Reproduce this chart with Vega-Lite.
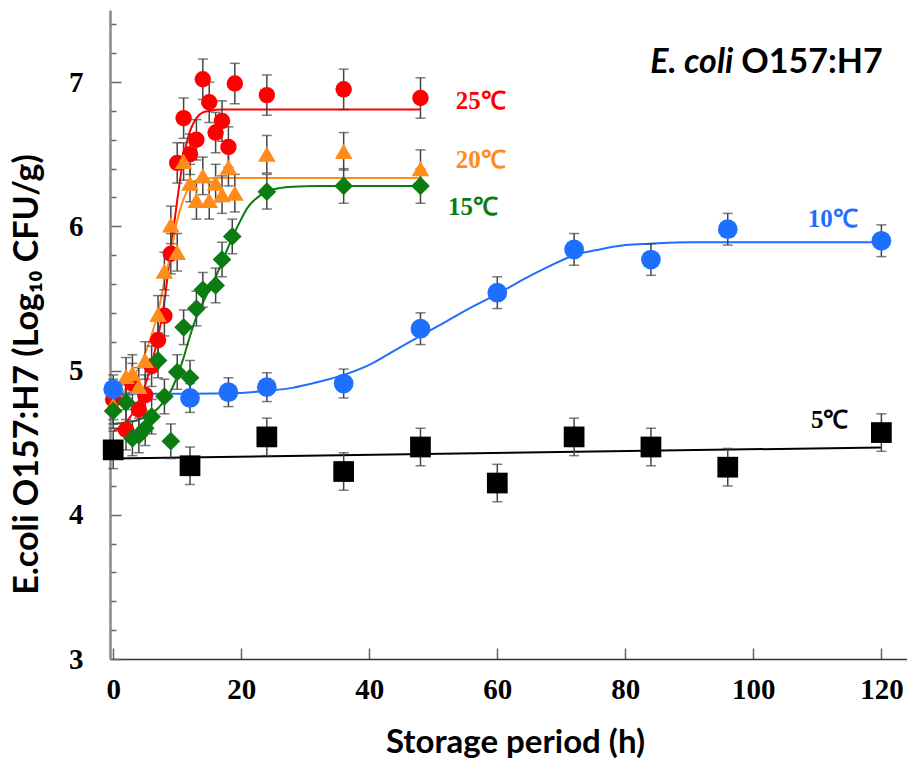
{
  "$schema": "https://vega.github.io/schema/vega-lite/v6.json",
  "autosize": {"type": "none"},
  "padding": {"left": 110, "top": 10, "right": 0, "bottom": 110},
  "width": 797,
  "height": 649,
  "background": "white",
  "config": {"view": {"stroke": null}},
  "datasets": {
    "points": [
      {"series": "5℃", "h": 0, "v": 4.45, "err": 0.13},
      {"series": "5℃", "h": 12, "v": 4.34, "err": 0.13},
      {"series": "5℃", "h": 24, "v": 4.54, "err": 0.13},
      {"series": "5℃", "h": 36, "v": 4.30, "err": 0.13},
      {"series": "5℃", "h": 48, "v": 4.47, "err": 0.13},
      {"series": "5℃", "h": 60, "v": 4.22, "err": 0.13},
      {"series": "5℃", "h": 72, "v": 4.54, "err": 0.13},
      {"series": "5℃", "h": 84, "v": 4.47, "err": 0.13},
      {"series": "5℃", "h": 96, "v": 4.33, "err": 0.13},
      {"series": "5℃", "h": 120, "v": 4.57, "err": 0.13},
      {"series": "25℃", "h": 0, "v": 4.80, "err": 0.14},
      {"series": "25℃", "h": 2, "v": 4.59, "err": 0.14},
      {"series": "25℃", "h": 3, "v": 4.91, "err": 0.14},
      {"series": "25℃", "h": 4, "v": 4.73, "err": 0.14},
      {"series": "25℃", "h": 5, "v": 4.83, "err": 0.14},
      {"series": "25℃", "h": 6, "v": 5.03, "err": 0.14},
      {"series": "25℃", "h": 7, "v": 5.21, "err": 0.14},
      {"series": "25℃", "h": 8, "v": 5.38, "err": 0.14},
      {"series": "25℃", "h": 9, "v": 5.81, "err": 0.14},
      {"series": "25℃", "h": 10, "v": 6.44, "err": 0.14},
      {"series": "25℃", "h": 11, "v": 6.75, "err": 0.14},
      {"series": "25℃", "h": 12, "v": 6.50, "err": 0.14},
      {"series": "25℃", "h": 13, "v": 6.60, "err": 0.14},
      {"series": "25℃", "h": 14, "v": 7.02, "err": 0.14},
      {"series": "25℃", "h": 15, "v": 6.86, "err": 0.14},
      {"series": "25℃", "h": 16, "v": 6.65, "err": 0.14},
      {"series": "25℃", "h": 17, "v": 6.73, "err": 0.14},
      {"series": "25℃", "h": 18, "v": 6.55, "err": 0.14},
      {"series": "25℃", "h": 19, "v": 6.99, "err": 0.14},
      {"series": "25℃", "h": 24, "v": 6.91, "err": 0.14},
      {"series": "25℃", "h": 36, "v": 6.95, "err": 0.14},
      {"series": "25℃", "h": 48, "v": 6.89, "err": 0.14},
      {"series": "20℃", "h": 0, "v": 4.76, "err": 0.13},
      {"series": "20℃", "h": 2, "v": 4.96, "err": 0.13},
      {"series": "20℃", "h": 3, "v": 4.98, "err": 0.13},
      {"series": "20℃", "h": 4, "v": 4.89, "err": 0.13},
      {"series": "20℃", "h": 5, "v": 5.07, "err": 0.13},
      {"series": "20℃", "h": 7, "v": 5.39, "err": 0.13},
      {"series": "20℃", "h": 8, "v": 5.69, "err": 0.13},
      {"series": "20℃", "h": 9, "v": 6.01, "err": 0.13},
      {"series": "20℃", "h": 10, "v": 5.82, "err": 0.13},
      {"series": "20℃", "h": 11, "v": 6.45, "err": 0.13},
      {"series": "20℃", "h": 12, "v": 6.30, "err": 0.13},
      {"series": "20℃", "h": 13, "v": 6.18, "err": 0.13},
      {"series": "20℃", "h": 14, "v": 6.35, "err": 0.13},
      {"series": "20℃", "h": 15, "v": 6.18, "err": 0.13},
      {"series": "20℃", "h": 16, "v": 6.30, "err": 0.13},
      {"series": "20℃", "h": 17, "v": 6.22, "err": 0.13},
      {"series": "20℃", "h": 18, "v": 6.41, "err": 0.13},
      {"series": "20℃", "h": 19, "v": 6.23, "err": 0.13},
      {"series": "20℃", "h": 24, "v": 6.50, "err": 0.13},
      {"series": "20℃", "h": 36, "v": 6.52, "err": 0.13},
      {"series": "20℃", "h": 48, "v": 6.40, "err": 0.13},
      {"series": "15℃", "h": 0, "v": 4.72, "err": 0.12},
      {"series": "15℃", "h": 2, "v": 4.78, "err": 0.12},
      {"series": "15℃", "h": 3, "v": 4.53, "err": 0.12},
      {"series": "15℃", "h": 4, "v": 4.55, "err": 0.12},
      {"series": "15℃", "h": 5, "v": 4.60, "err": 0.12},
      {"series": "15℃", "h": 6, "v": 4.68, "err": 0.12},
      {"series": "15℃", "h": 7, "v": 5.07, "err": 0.12},
      {"series": "15℃", "h": 8, "v": 4.82, "err": 0.12},
      {"series": "15℃", "h": 9, "v": 4.51, "err": 0.12},
      {"series": "15℃", "h": 10, "v": 4.99, "err": 0.12},
      {"series": "15℃", "h": 11, "v": 5.30, "err": 0.12},
      {"series": "15℃", "h": 12, "v": 4.95, "err": 0.12},
      {"series": "15℃", "h": 13, "v": 5.43, "err": 0.12},
      {"series": "15℃", "h": 14, "v": 5.56, "err": 0.12},
      {"series": "15℃", "h": 16, "v": 5.59, "err": 0.12},
      {"series": "15℃", "h": 17, "v": 5.77, "err": 0.12},
      {"series": "15℃", "h": 18.6, "v": 5.93, "err": 0.12},
      {"series": "15℃", "h": 24, "v": 6.24, "err": 0.12},
      {"series": "15℃", "h": 36, "v": 6.28, "err": 0.12},
      {"series": "15℃", "h": 48, "v": 6.28, "err": 0.12},
      {"series": "10℃", "h": 0, "v": 4.87, "err": 0.1},
      {"series": "10℃", "h": 12, "v": 4.81, "err": 0.1},
      {"series": "10℃", "h": 18, "v": 4.85, "err": 0.1},
      {"series": "10℃", "h": 24, "v": 4.885, "err": 0.1},
      {"series": "10℃", "h": 36, "v": 4.91, "err": 0.1},
      {"series": "10℃", "h": 48, "v": 5.29, "err": 0.11},
      {"series": "10℃", "h": 60, "v": 5.54, "err": 0.11},
      {"series": "10℃", "h": 72, "v": 5.84, "err": 0.11},
      {"series": "10℃", "h": 84, "v": 5.77, "err": 0.11},
      {"series": "10℃", "h": 96, "v": 5.98, "err": 0.11},
      {"series": "10℃", "h": 120, "v": 5.90, "err": 0.11}
    ],
    "curves": [
      {"series": "5℃", "h": 0, "v": 4.39},
      {"series": "5℃", "h": 120, "v": 4.467},
      {"series": "25℃", "h": 0, "v": 4.58},
      {"series": "25℃", "h": 2, "v": 4.64},
      {"series": "25℃", "h": 3, "v": 4.70},
      {"series": "25℃", "h": 4, "v": 4.79},
      {"series": "25℃", "h": 5, "v": 4.90},
      {"series": "25℃", "h": 6, "v": 5.05},
      {"series": "25℃", "h": 7, "v": 5.23},
      {"series": "25℃", "h": 8, "v": 5.48},
      {"series": "25℃", "h": 9, "v": 5.84},
      {"series": "25℃", "h": 10, "v": 6.18},
      {"series": "25℃", "h": 11, "v": 6.48},
      {"series": "25℃", "h": 12, "v": 6.66},
      {"series": "25℃", "h": 13, "v": 6.75},
      {"series": "25℃", "h": 14, "v": 6.79},
      {"series": "25℃", "h": 15, "v": 6.80},
      {"series": "25℃", "h": 17, "v": 6.81},
      {"series": "25℃", "h": 48, "v": 6.81},
      {"series": "20℃", "h": 0, "v": 4.72},
      {"series": "20℃", "h": 2, "v": 4.88},
      {"series": "20℃", "h": 4, "v": 5.02},
      {"series": "20℃", "h": 5, "v": 5.12},
      {"series": "20℃", "h": 6, "v": 5.25},
      {"series": "20℃", "h": 7, "v": 5.40},
      {"series": "20℃", "h": 8, "v": 5.62},
      {"series": "20℃", "h": 9, "v": 5.82},
      {"series": "20℃", "h": 10, "v": 6.04},
      {"series": "20℃", "h": 11, "v": 6.19},
      {"series": "20℃", "h": 12, "v": 6.28},
      {"series": "20℃", "h": 13, "v": 6.32},
      {"series": "20℃", "h": 14, "v": 6.33},
      {"series": "20℃", "h": 16, "v": 6.335},
      {"series": "20℃", "h": 48, "v": 6.335},
      {"series": "15℃", "h": 0, "v": 4.63},
      {"series": "15℃", "h": 2, "v": 4.64},
      {"series": "15℃", "h": 4, "v": 4.66},
      {"series": "15℃", "h": 6, "v": 4.70},
      {"series": "15℃", "h": 8, "v": 4.79},
      {"series": "15℃", "h": 9, "v": 4.86},
      {"series": "15℃", "h": 10, "v": 4.96},
      {"series": "15℃", "h": 11, "v": 5.09},
      {"series": "15℃", "h": 12, "v": 5.24},
      {"series": "15℃", "h": 13, "v": 5.37},
      {"series": "15℃", "h": 14, "v": 5.47},
      {"series": "15℃", "h": 15, "v": 5.56},
      {"series": "15℃", "h": 16, "v": 5.65},
      {"series": "15℃", "h": 17, "v": 5.75},
      {"series": "15℃", "h": 18, "v": 5.86},
      {"series": "15℃", "h": 19, "v": 5.96},
      {"series": "15℃", "h": 20, "v": 6.05},
      {"series": "15℃", "h": 21, "v": 6.13},
      {"series": "15℃", "h": 22, "v": 6.18},
      {"series": "15℃", "h": 24, "v": 6.24},
      {"series": "15℃", "h": 26, "v": 6.265},
      {"series": "15℃", "h": 28, "v": 6.275},
      {"series": "15℃", "h": 32, "v": 6.28},
      {"series": "15℃", "h": 48, "v": 6.28},
      {"series": "10℃", "h": 0, "v": 4.84},
      {"series": "10℃", "h": 12, "v": 4.84},
      {"series": "10℃", "h": 20, "v": 4.845},
      {"series": "10℃", "h": 24, "v": 4.86},
      {"series": "10℃", "h": 28, "v": 4.88},
      {"series": "10℃", "h": 32, "v": 4.92},
      {"series": "10℃", "h": 36, "v": 4.97},
      {"series": "10℃", "h": 40, "v": 5.04},
      {"series": "10℃", "h": 44, "v": 5.14},
      {"series": "10℃", "h": 48, "v": 5.24},
      {"series": "10℃", "h": 52, "v": 5.34},
      {"series": "10℃", "h": 56, "v": 5.44},
      {"series": "10℃", "h": 60, "v": 5.53},
      {"series": "10℃", "h": 64, "v": 5.63},
      {"series": "10℃", "h": 68, "v": 5.72},
      {"series": "10℃", "h": 72, "v": 5.80},
      {"series": "10℃", "h": 76, "v": 5.84},
      {"series": "10℃", "h": 80, "v": 5.87},
      {"series": "10℃", "h": 84, "v": 5.88},
      {"series": "10℃", "h": 90, "v": 5.89},
      {"series": "10℃", "h": 120, "v": 5.89}
    ],
    "labels": [
      {"series": "25℃", "h": 53.5, "v": 6.87},
      {"series": "20℃", "h": 53.5, "v": 6.46},
      {"series": "15℃", "h": 52.3, "v": 6.135},
      {"series": "10℃", "h": 108.5, "v": 6.05},
      {"series": "5℃", "h": 109, "v": 4.66}
    ],
    "title": [
      {"h": 97.5, "v": 7.13, "a": "E. coli", "b": "O157:H7"}
    ]
  },
  "encoding": {
    "x": {
      "field": "h", "type": "quantitative",
      "scale": {"domain": [-0.5, 124], "nice": false, "zero": false},
      "axis": {
        "values": [0, 20, 40, 60, 80, 100, 120],
        "grid": false,
        "tickSize": -11, "tickColor": "#666", "tickWidth": 1.5,
        "domainColor": "#333", "domainWidth": 1.5,
        "labelFont": "Liberation Serif", "labelFontWeight": "bold", "labelFontSize": 29,
        "labelColor": "#000", "labelPadding": 27, "labelFlush": false, "labelOverlap": false,
        "title": "Storage period (h)",
        "titleFont": "Lato", "titleFontWeight": "bold", "titleFontSize": 33, "titleColor": "#000",
        "titleBaseline": "alphabetic", "titleY": 93, "titleX": 405, "titleAlign": "center"
      }
    },
    "y": {
      "field": "v", "type": "quantitative",
      "scale": {"domain": [3, 7.5], "nice": false, "zero": false},
      "axis": {
        "values": [3, 3.2, 3.4, 3.6, 3.8, 4, 4.2, 4.4, 4.6, 4.8, 5, 5.2, 5.4, 5.6, 5.8, 6, 6.2, 6.4, 6.6, 6.8, 7, 7.2, 7.4],
        "labelExpr": "abs(datum.value - round(datum.value)) < 0.01 ? toString(round(datum.value)) : ''",
        "grid": false,
        "tickSize": {"condition": {"test": "abs(datum.value - round(datum.value)) < 0.01", "value": -11}, "value": -6},
        "tickColor": "#666", "tickWidth": 1.5,
        "domainColor": "#888", "domainWidth": 2.5,
        "labelFont": "Liberation Serif", "labelFontWeight": "bold", "labelFontSize": 29,
        "labelColor": "#000", "labelPadding": 38, "labelOverlap": false, "labelFlush": false,
        "title": "E.coli O157:H7 (Log₁₀ CFU/g)",
        "titleFont": "Lato", "titleFontWeight": "bold", "titleFontSize": 34, "titleColor": "#000",
        "titleBaseline": "alphabetic", "titleAngle": -90, "titleX": -73, "titleY": 364, "titleAlign": "center"
      }
    }
  },
  "layer": [
    {
      "data": {"name": "curves"},
      "mark": {"type": "line", "strokeWidth": 2, "interpolate": "monotone"},
      "encoding": {
        "color": {"field": "series", "type": "nominal", "legend": null,
          "scale": {"domain": ["25℃", "20℃", "15℃", "10℃", "5℃"], "range": ["#ff0000", "#ff8c1a", "#0b7c12", "#1f6fff", "#000000"]}},
        "detail": {"field": "series"},
        "order": {"field": "h", "type": "quantitative"}
      }
    },
    {
      "data": {"name": "points"},
      "mark": {"type": "errorbar", "ticks": {"size": 10, "thickness": 1.5, "color": "#444"}, "rule": {"color": "#444", "strokeWidth": 1.5}},
      "encoding": {
        "y": {"field": "v", "type": "quantitative"},
        "yError": {"field": "err"}
      }
    },
    {
      "data": {"name": "points"},
      "mark": {"type": "point", "filled": true, "opacity": 1, "strokeWidth": 0},
      "encoding": {
        "color": {"field": "series", "type": "nominal", "legend": null},
        "shape": {"field": "series", "type": "nominal", "legend": null,
          "scale": {"domain": ["25℃", "20℃", "15℃", "10℃", "5℃"], "range": ["circle", "triangle-up", "diamond", "circle", "square"]}},
        "size": {"field": "series", "type": "nominal", "legend": null,
          "scale": {"domain": ["25℃", "20℃", "15℃", "10℃", "5℃"], "range": [270, 430, 450, 390, 330]}}
      }
    },
    {
      "data": {"name": "labels"},
      "mark": {"type": "text", "align": "left", "baseline": "middle", "font": "Liberation Serif", "fontWeight": "bold", "fontSize": 25},
      "encoding": {
        "text": {"field": "series"},
        "color": {"field": "series", "type": "nominal", "legend": null}
      }
    },
    {
      "data": {"name": "title"},
      "mark": {"type": "text", "align": "right", "baseline": "middle", "font": "Lato", "fontStyle": "italic", "fontWeight": "bold", "fontSize": 34, "dx": -4, "color": "#000"},
      "encoding": {"text": {"field": "a"}}
    },
    {
      "data": {"name": "title"},
      "mark": {"type": "text", "align": "left", "baseline": "middle", "font": "Lato", "fontWeight": "bold", "fontSize": 34, "dx": 4, "color": "#000"},
      "encoding": {"text": {"field": "b"}}
    }
  ]
}
